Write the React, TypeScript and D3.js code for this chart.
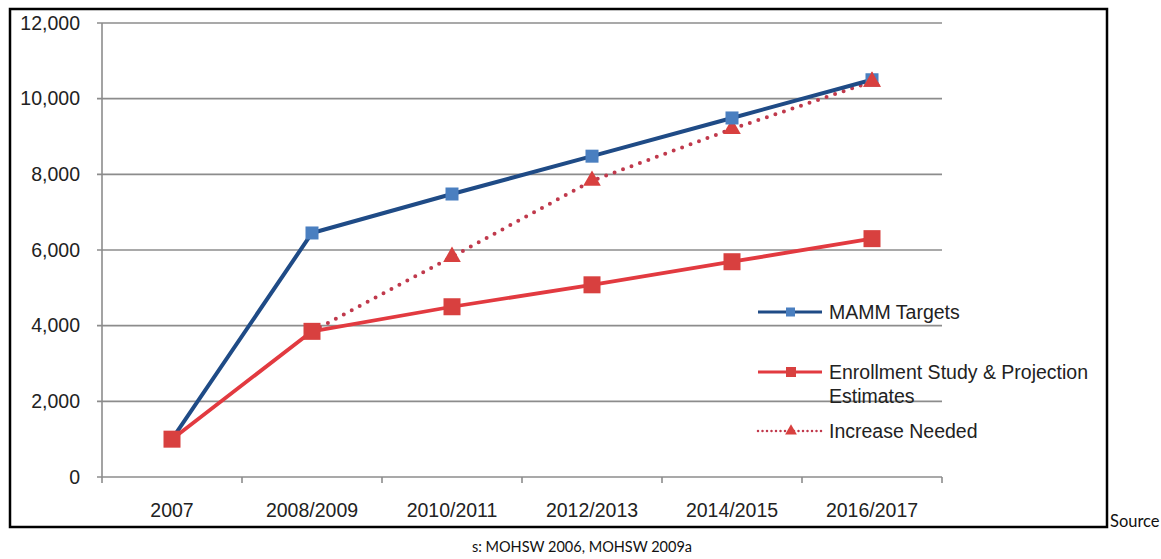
import React from "react";
import * as d3 from "d3";

const categories = ["2007", "2008/2009", "2010/2011", "2012/2013", "2014/2015", "2016/2017"];
const mammTargets = [1000, 6450, 7480, 8480, 9490, 10500];
const enrollment = [1000, 3850, 4500, 5080, 5690, 6300];
const increaseCats = ["2008/2009", "2010/2011", "2012/2013", "2014/2015", "2016/2017"];
const increaseNeeded = [3850, 5820, 7830, 9200, 10450];
const yTicks = [0, 2000, 4000, 6000, 8000, 10000, 12000];
const legendLabels = ["MAMM Targets", "Enrollment Study & Projection", "Estimates", "Increase Needed"];

const W = 1161, H = 559;
const plot = { left: 102, right: 942, top: 23, bottom: 477 };

const BLUE_LINE = "#1f4b86";
const BLUE_MARK = "#4a7fc0";
const RED_LINE = "#e23a40";
const RED_MARK = "#d8403f";
const DOT_RED = "#c0394c";
const GRID = "#8c8c8c";
const FS = 19.5;

export default function App() {
  const x = d3.scaleBand<string>().domain(categories).range([plot.left, plot.right]);
  const cx = (c: string) => (x(c) as number) + x.bandwidth() / 2;
  const y = d3.scaleLinear().domain([0, 12000]).range([plot.bottom, plot.top]);
  const fmt = d3.format(",");

  const line = d3.line<[number, number]>().x(d => d[0]).y(d => d[1]);
  const mammPts: [number, number][] = categories.map((c, i) => [cx(c), y(mammTargets[i])]);
  const enrPts: [number, number][] = categories.map((c, i) => [cx(c), y(enrollment[i])]);
  const incPts: [number, number][] = increaseCats.map((c, i) => [cx(c), y(increaseNeeded[i])]);

  const boundaries = categories.map(c => x(c) as number).concat([plot.right]);
  const tri = d3.symbol(d3.symbolTriangle, 135)();
  const sans = "'Liberation Sans', Arial, sans-serif";

  const legX = 758;
  const legRows = [312, 372, 431];

  return (
    <svg width={W} height={H} style={{ position: "absolute", left: 0, top: 0, background: "#fff" }}>
      <rect x={0} y={0} width={W} height={H} fill="#fff" />
      <rect x={10} y={9} width={1097} height={518} fill="#fff" stroke="#000" strokeWidth={2.5} />
      {/* gridlines */}
      {yTicks.map(t => (
        <g key={t}>
          <line x1={plot.left - 5} x2={plot.right} y1={y(t)} y2={y(t)} stroke={GRID} strokeWidth={1.6} />
          <text x={80} y={y(t)} dy="0.35em" textAnchor="end" fontFamily={sans} fontSize={FS} fill="#222">{fmt(t)}</text>
        </g>
      ))}
      <line x1={plot.left} x2={plot.left} y1={plot.top} y2={plot.bottom} stroke={GRID} strokeWidth={1.6} />
      {boundaries.map((b, i) => (
        <line key={i} x1={b} x2={b} y1={plot.bottom} y2={plot.bottom + 6} stroke={GRID} strokeWidth={1.6} />
      ))}
      {categories.map(c => (
        <text key={c} x={cx(c)} y={510} dy="0.35em" textAnchor="middle" fontFamily={sans} fontSize={FS} fill="#222">{c}</text>
      ))}

      {/* Increase needed dotted */}
      <path d={line(incPts) || ""} fill="none" stroke={DOT_RED} strokeWidth={4} strokeDasharray="0 9" strokeLinecap="round" />
      {incPts.slice(1).map((p, i) => (
        <path key={i} d={tri || ""} transform={`translate(${p[0]},${p[1]})`} fill={RED_MARK} />
      ))}

      {/* MAMM */}
      <path d={line(mammPts) || ""} fill="none" stroke={BLUE_LINE} strokeWidth={4} strokeLinejoin="round" />
      {mammPts.map((p, i) => (
        <rect key={i} x={p[0] - 6.5} y={p[1] - 6.5} width={13} height={13} fill={BLUE_MARK} />
      ))}

      {/* Enrollment */}
      <path d={line(enrPts) || ""} fill="none" stroke={RED_LINE} strokeWidth={3.8} strokeLinejoin="round" />
      {enrPts.map((p, i) => (
        <rect key={i} x={p[0] - 8.5} y={p[1] - 8.5} width={17} height={17} fill={RED_MARK} />
      ))}
      {/* last increase triangle on top */}
      {incPts.slice(-1).map((p, i) => (
        <path key={i} d={tri || ""} transform={`translate(${p[0]},${p[1]})`} fill={RED_MARK} />
      ))}

      {/* Legend */}
      <line x1={legX} x2={legX + 64} y1={legRows[0]} y2={legRows[0]} stroke={BLUE_LINE} strokeWidth={3} />
      <rect x={legX + 28} y={legRows[0] - 4.5} width={9} height={9} fill={BLUE_MARK} />
      <text x={829} y={legRows[0]} dy="0.35em" fontFamily={sans} fontSize={FS} fill="#222">{legendLabels[0]}</text>

      <line x1={legX} x2={legX + 64} y1={legRows[1]} y2={legRows[1]} stroke={RED_LINE} strokeWidth={3} />
      <rect x={legX + 28} y={legRows[1] - 5} width={10} height={10} fill={RED_MARK} />
      <text x={829} y={legRows[1]} dy="0.35em" fontFamily={sans} fontSize={FS} fill="#222">{legendLabels[1]}</text>
      <text x={829} y={396} dy="0.35em" fontFamily={sans} fontSize={FS} fill="#222">{legendLabels[2]}</text>

      <line x1={legX} x2={legX + 64} y1={legRows[2]} y2={legRows[2]} stroke={DOT_RED} strokeWidth={2.5} strokeDasharray="0 4.5" strokeLinecap="round" />
      <path d={d3.symbol(d3.symbolTriangle, 60)() || ""} transform={`translate(${legX + 33},${legRows[2]})`} fill={RED_MARK} />
      <text x={829} y={legRows[2]} dy="0.35em" fontFamily={sans} fontSize={FS} fill="#222">{legendLabels[3]}</text>

      {/* Source */}
      <text x={1110} y={527} fontFamily="Lato, 'Open Sans', sans-serif" fontSize={16.5} fill="#111">Source</text>
      <text x={582} y={552} textAnchor="middle" fontFamily="Lato, 'Open Sans', sans-serif" fontSize={14.5} fill="#111">s: MOHSW 2006, MOHSW 2009a</text>
    </svg>
  );
}
